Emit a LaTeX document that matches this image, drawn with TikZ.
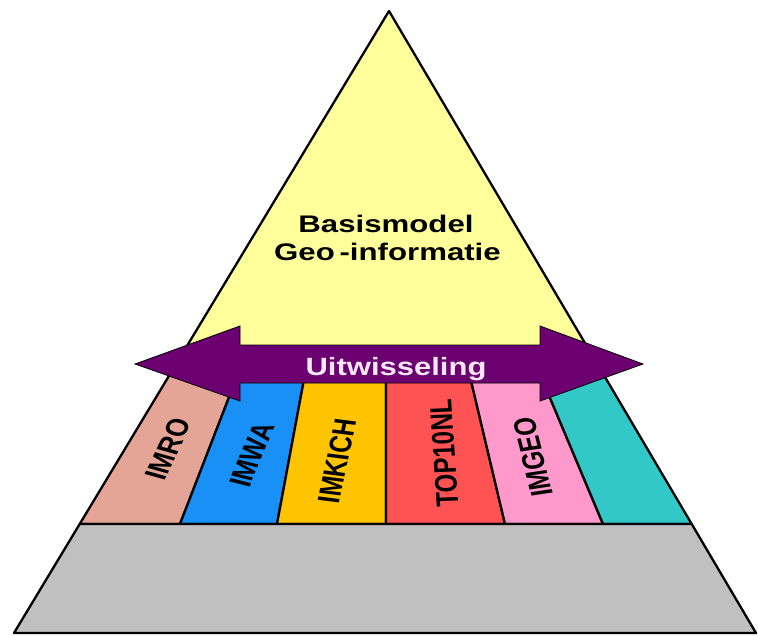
\documentclass[tikz,border=0pt]{standalone}
\usepackage{fontspec}
\setmainfont{Liberation Sans}
\definecolor{pyrYellow}{RGB}{255,255,155}
\definecolor{pyrGray}{RGB}{192,192,192}
\definecolor{cImro}{RGB}{228,164,150}
\definecolor{cImwa}{RGB}{24,144,245}
\definecolor{cImkich}{RGB}{255,196,0}
\definecolor{cTop}{RGB}{255,82,82}
\definecolor{cImgeo}{RGB}{255,153,204}
\definecolor{cTeal}{RGB}{50,200,200}
\definecolor{cPurple}{RGB}{108,0,112}
\definecolor{cWhiteText}{RGB}{246,232,246}
\begin{document}
\begin{tikzpicture}[x=1pt,y=-1pt,
  edge/.style={draw=black,line width=2.3pt,line join=round},
  txt/.style={font=\fontsize{24}{28}\selectfont\bfseries,inner sep=0pt},
]
\useasboundingbox (0,0) rectangle (758,635);
% pyramid corners
\coordinate (apex) at (389,11);
\coordinate (L1) at (175.5,365);
\coordinate (R1) at (597.9,365);
\coordinate (L2) at (79.7,524);
\coordinate (R2) at (691.7,524);
\coordinate (BL) at (14,633);
\coordinate (BR) at (756,633);
% band boundaries (top / bottom)
\coordinate (t1) at (241.5,365); \coordinate (u1) at (180,524);
\coordinate (t2) at (306.7,365); \coordinate (u2) at (277,524);
\coordinate (t3) at (386,365);   \coordinate (u3) at (386,524);
\coordinate (t4) at (467.3,365); \coordinate (u4) at (505,524);
\coordinate (t5) at (536.2,365); \coordinate (u5) at (603,524);
% top yellow triangle
\path[edge,fill=pyrYellow] (apex) -- (R1) -- (L1) -- cycle;
% bands
\path[edge,fill=cImro]   (L1) -- (t1) -- (u1) -- (L2) -- cycle;
\path[edge,fill=cImwa]   (t1) -- (t2) -- (u2) -- (u1) -- cycle;
\path[edge,fill=cImkich] (t2) -- (t3) -- (u3) -- (u2) -- cycle;
\path[edge,fill=cTop]    (t3) -- (t4) -- (u4) -- (u3) -- cycle;
\path[edge,fill=cImgeo]  (t4) -- (t5) -- (u5) -- (u4) -- cycle;
\path[edge,fill=cTeal]   (t5) -- (R1) -- (R2) -- (u5) -- cycle;
% base
\path[edge,fill=pyrGray] (L2) -- (R2) -- (BR) -- (BL) -- cycle;
% double arrow
\path[draw=black,line width=0.8pt,fill=cPurple,line join=miter]
  (135,364) -- (240,326) -- (240,345) -- (540,345) -- (540,326) -- (643,364)
  -- (540,401) -- (540,383) -- (240,383) -- (240,401) -- cycle;
% texts
\node[txt,anchor=base,xscale=1.3] (basis) at (386,232) {Basismodel};
\node[txt,anchor=base,xscale=1.3] (geo) at (387.5,260) {Geo\hspace{0.15em}-informatie};
\node[txt,anchor=base,xscale=1.24,text=cWhiteText,font=\fontsize{25}{28}\selectfont\bfseries] (uitw) at (396,375) {Uitwisseling};
% band labels: rotated, then stretched horizontally
\begin{scope}[shift={(168,449)},xscale=1.3]
  \node[txt,rotate=70,transform shape] (imro) at (0,0) {IMRO};
\end{scope}
\begin{scope}[shift={(252,455)},xscale=1.3]
  \node[txt,rotate=72,transform shape] (imwa) at (0,0) {IMWA};
\end{scope}
\begin{scope}[shift={(337,461)},xscale=1.3]
  \node[txt,rotate=80.7,transform shape] (imkich) at (0,0) {IMKICH};
\end{scope}
\begin{scope}[shift={(444,453)},xscale=1.3]
  \node[txt,rotate=93,transform shape] (top10nl) at (0,0) {TOP10NL};
\end{scope}
\begin{scope}[shift={(533,457)},xscale=1.3]
  \node[txt,rotate=101,transform shape] (imgeo) at (0,0) {IMGEO};
\end{scope}
\end{tikzpicture}
\end{document}
